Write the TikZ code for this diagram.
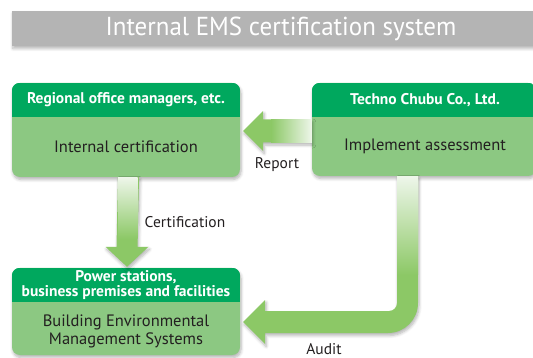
\documentclass[tikz,border=0pt]{standalone}
\usepackage{fontspec}
\setmainfont{PT Sans}
\newfontfamily\condf{PT Sans}
\newfontfamily\titlef[FakeStretch=0.96]{PT Sans}
\usetikzlibrary{shadows.blur,calc}
\definecolor{headgreen}{HTML}{00A85E}
\definecolor{bodygreen}{HTML}{8CC882}
\definecolor{arrowgreen}{HTML}{8CC866}
\definecolor{palegreen}{HTML}{EEF6EA}
\definecolor{titlegray}{HTML}{B4B4B4}
\definecolor{txt}{HTML}{231F20}
\tikzset{
  softshadow/.style={blur shadow={shadow xshift=1pt,shadow yshift=-2.5pt,shadow blur radius=3pt,shadow blur steps=6,shadow opacity=30}},
  box/.style={rectangle,rounded corners=8pt,fill=bodygreen,draw=none,inner sep=0pt,softshadow},
  headtxt/.style={text=white,font=\condf\bfseries\fontsize{15.5}{16}\selectfont,align=center,inner sep=0pt},
  bodytxt/.style={text=txt,font=\condf\fontsize{16.5}{18}\selectfont,align=center,inner sep=0pt},
  lbl/.style={text=txt,font=\condf\fontsize{15.5}{17}\selectfont,inner sep=0pt},
  arrowfill/.style={fill=arrowgreen,softshadow},
}
\begin{document}
\begin{tikzpicture}[x=1pt,y=-1pt]
\useasboundingbox (0,0) rectangle (533,358);
% title
\fill[titlegray,softshadow] (12,11) rectangle (535,46);
\node[text=white,font=\titlef\fontsize{26}{27}\selectfont,inner sep=0pt] (title) at (281,29) {Internal EMS certification system};
% boxes
\node[box,minimum width=228pt,minimum height=94pt] (b1) at (126,130) {};
\node[box,minimum width=224pt,minimum height=93pt] (b2) at (424,129.5) {};
\node[box,minimum width=228pt,minimum height=87pt] (b3) at (126,311.5) {};
\foreach \b/\h in {b1/34,b2/34,b3/34}{
  \begin{scope}
    \clip[rounded corners=8pt] (\b.north west) rectangle (\b.south east);
    \fill[headgreen] (\b.north west) rectangle ($(\b.north east)+(0,\h)$);
  \end{scope}
}
% texts
\node[headtxt] (h1) at (126,100) {Regional office managers, etc.};
\node[bodytxt] (t1) at (126,147) {Internal certification};
\node[headtxt] (h2) at (425,100) {Techno Chubu Co., Ltd.};
\node[bodytxt] (t2) at (425,146) {Implement assessment};
\node[headtxt] (h3) at (126,285.5) {Power stations,\\[-1pt]business premises and facilities};
\node[bodytxt] (t3) at (126,331) {Building Environmental\\Management Systems};
% report arrow
\coordinate (rA) at ($(b2.west)+(0,1.5)$);
\coordinate (rT) at ($(b1.east)+(3,1)$);
\fill[arrowfill] (rA) ++(0,-11.5) -- ($(rT)+(20,-11.5)$) -- ($(rT)+(20,-20)$) -- (rT) -- ($(rT)+(20,20)$) -- ($(rT)+(20,11.5)$) -- ($(rA)+(0,11.5)$) -- cycle;
\shade[left color=arrowgreen,right color=palegreen] ($(rT)+(28,-11.5)$) rectangle ($(rA)+(0,11.5)$);
\node[lbl] (lr) at (277,165) {Report};
% certification arrow
\coordinate (cA) at (b1.south -| 128.5,0);
\coordinate (cT) at ($(b3.north)+(1,-1)$);
\fill[arrowfill] ($(cA)+(-10.5,0)$) -- ($(cT)+(-10.5,-20)$) -- ($(cT)+(-21.5,-20)$) -- (cT) -- ($(cT)+(21.5,-20)$) -- ($(cT)+(10.5,-20)$) -- ($(cA)+(10.5,0)$) -- cycle;
\shade[top color=palegreen,bottom color=arrowgreen] ($(cA)+(-10.5,0)$) rectangle ($(cT)+(10.5,-28)$);
\node[lbl] (lc) at (185,222) {Certification};
% audit arrow
\coordinate (aA) at (b2.south -| 407.5,0);
\coordinate (aT) at ($(b3.east)+(3,10.5)$);
\fill[arrowfill] ($(aA)+(10.5,0)$) -- (418,303) .. controls (418,319.6) and (404.6,333) .. (388,333)
  -- ($(aT)+(22,11)$) -- ($(aT)+(22,22)$) -- (aT) -- ($(aT)+(22,-22)$) -- ($(aT)+(22,-11)$)
  -- (389,311) .. controls (393.4,311) and (397,307.4) .. (397,303) -- ($(aA)+(-10.5,0)$) -- cycle;
\shade[top color=palegreen,bottom color=arrowgreen] ($(aA)+(-10.5,0)$) rectangle (418,275);
\node[lbl] (la) at (324,349) {Audit};
\end{tikzpicture}
\end{document}
